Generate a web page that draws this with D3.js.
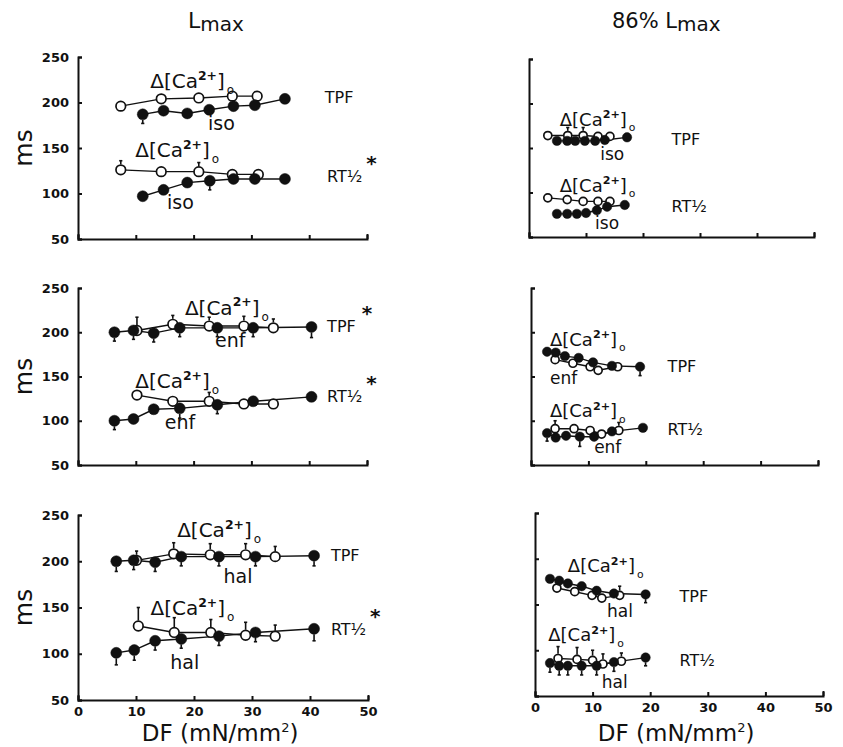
<!DOCTYPE html>
<head>
  <meta charset='utf-8'>
  <title>TPF and RT1/2 vs DF</title>
  <script src="https://cdn.jsdelivr.net/npm/d3@7"></script>
  <style>
    body { margin: 0; background: #fff; }
    svg text { font-family: "DejaVu Sans", sans-serif; fill: #111; }
    .tick text { font-weight: bold; font-size: 13px; }
    .axis path, .axis line { stroke: #111; stroke-width: 2; }
  </style>
</head>
<body>
  <div id="chart"></div>
  <script type="text/javascript">
    var width = 843,
        height = 747;

    var dfTicks = [0, 10, 20, 30, 40, 50];
    var msTicks = [50, 100, 150, 200, 250];

    // values are [DF, ms, sem extent]; open = delta[Ca2+]o, filled = drug
    // Lmax, isoproterenol
    var lmaxIsoTpfCa   = [[7.4,196,0],[14.4,204,0],[20.9,205,0],[26.7,207,0],[31.0,207,0]];
    var lmaxIsoTpfDrug = [[11.2,187,10],[14.8,191,0],[18.9,188,0],[22.7,192,0],[26.9,196,0],[30.6,197,0],[35.8,204,0]];
    var lmaxIsoRtCa    = [[7.4,126,10],[14.4,124,0],[20.9,124,10],[26.7,121,0],[31.2,121,0]];
    var lmaxIsoRtDrug  = [[11.2,97,0],[14.8,104,0],[18.9,112,0],[22.8,114,10],[26.9,116,0],[30.6,116,0],[35.8,116,0]];
    // Lmax, enflurane
    var lmaxEnfTpfCa   = [[10.2,202,15],[16.4,209,10],[22.7,207,10],[28.7,207,11],[33.8,205,10]];
    var lmaxEnfTpfDrug = [[6.3,200,10],[9.6,202,10],[13.1,199,10],[17.6,205,10],[24.1,205,10],[30.3,205,10],[40.4,206,12]];
    var lmaxEnfRtCa    = [[10.2,129,0],[16.4,122,0],[22.7,122,10],[28.7,119,0],[33.8,119,0]];
    var lmaxEnfRtDrug  = [[6.3,100,10],[9.6,102,0],[13.1,113,0],[17.6,114,11],[24.1,118,10],[30.3,122,0],[40.4,127,0]];
    // Lmax, halothane
    var lmaxHalTpfCa   = [[10.1,201,10],[16.5,208,12],[22.8,207,12],[28.9,207,12],[34.0,205,11]];
    var lmaxHalTpfDrug = [[6.6,200,11],[9.6,201,10],[13.3,199,10],[17.8,205,10],[24.3,205,10],[30.6,205,10],[40.7,206,11]];
    var lmaxHalRtCa    = [[10.4,130,20],[16.6,123,16],[22.9,123,14],[28.9,120,14],[34.0,119,12]];
    var lmaxHalRtDrug  = [[6.6,101,13],[9.7,104,11],[13.3,114,10],[17.8,116,10],[24.3,119,10],[30.6,123,10],[40.7,127,13]];
    // 86% Lmax, isoproterenol
    var subIsoTpfCa    = [[3.3,164,0],[6.8,164,9],[9.5,164,9],[12.1,163,0],[14.2,163,0]];
    var subIsoTpfDrug  = [[4.9,158,0],[6.7,158,0],[8.1,158,0],[9.8,158,0],[11.6,158,0],[13.3,159,0],[17.2,162,0]];
    var subIsoRtCa     = [[3.3,94,0],[6.7,92,0],[9.5,90,0],[12.1,90,0],[14.2,90,0]];
    var subIsoRtDrug   = [[4.9,76,0],[6.7,76,0],[8.4,76,0],[10.0,77,0],[11.9,80,0],[13.7,84,0],[16.8,86,0]];
    // 86% Lmax, enflurane
    var subEnfTpfCa    = [[4.2,169,0],[7.3,165,0],[10.3,161,0],[11.7,157,0],[15.1,161,0]];
    var subEnfTpfDrug  = [[2.8,178,0],[4.3,177,9],[5.9,173,0],[8.3,171,0],[10.8,166,0],[14.1,162,0],[19.0,161,10]];
    var subEnfRtCa     = [[4.2,91,9],[7.5,91,0],[10.3,89,0],[12.3,85,0],[15.3,89,9]];
    var subEnfRtDrug   = [[2.8,86,9],[4.3,81,0],[6.1,83,0],[8.5,82,11],[11.0,82,0],[14.1,88,0],[19.5,92,0]];
    // 86% Lmax, halothane
    var subHalTpfCa    = [[3.8,168,0],[6.9,164,0],[9.9,160,0],[11.6,157,0],[14.7,160,10]];
    var subHalTpfDrug  = [[2.6,178,0],[4.2,176,0],[5.7,173,0],[8.1,170,0],[10.7,165,0],[13.7,162,0],[19.2,161,9]];
    var subHalRtCa     = [[4.0,91,13],[7.3,90,13],[10.0,89,11],[11.8,85,11],[15.0,88,9]];
    var subHalRtDrug   = [[2.6,86,10],[4.2,83,10],[5.7,83,10],[8.1,83,10],[10.7,83,10],[13.7,87,10],[19.2,92,9]];

    var panels = [
      {col: 0, row: 0, drug: "iso", box: [78, 367, 57, 239], big: true,
       series: [lmaxIsoTpfCa, lmaxIsoTpfDrug, lmaxIsoRtCa, lmaxIsoRtDrug],
       tpfStar: false, rtStar: true,
       lab: {caT: [12.5, 216], drT: [22.5, 170], tpf: [42.7, 200], caR: [9.9, 140], drR: [15.4, 83], rt: [43.1, 113]}},
      {col: 0, row: 1, drug: "enf", box: [78, 367, 288, 465], big: true,
       series: [lmaxEnfTpfCa, lmaxEnfTpfDrug, lmaxEnfRtCa, lmaxEnfRtDrug],
       tpfStar: true, rtStar: true,
       lab: {caT: [18.5, 220], drT: [23.7, 183], tpf: [43.1, 200], caR: [9.9, 137], drR: [15.0, 91], rt: [43.1, 121]}},
      {col: 0, row: 2, drug: "hal", box: [78, 368, 515, 700], big: true,
       series: [lmaxHalTpfCa, lmaxHalTpfDrug, lmaxHalRtCa, lmaxHalRtDrug],
       tpfStar: false, rtStar: true,
       lab: {caT: [17.1, 226], drT: [25.1, 177], tpf: [43.6, 200], caR: [12.5, 142], drR: [15.9, 84], rt: [43.6, 120]}},
      {col: 1, row: 0, drug: "iso", box: [529, 814, 59, 237], big: false,
       series: [subIsoTpfCa, subIsoTpfDrug, subIsoRtCa, subIsoRtDrug],
       lab: {caT: [5.4, 175], drT: [12.5, 136], tpf: [25, 153], caR: [5.4, 101], drR: [11.6, 59], rt: [25, 78]}},
      {col: 1, row: 1, drug: "enf", box: [531, 818, 288, 465], big: false,
       series: [subEnfTpfCa, subEnfTpfDrug, subEnfRtCa, subEnfRtDrug],
       lab: {caT: [3.3, 185], drT: [3.3, 142], tpf: [23.8, 155], caR: [3.3, 104], drR: [11, 63], rt: [23.8, 84]}},
      {col: 1, row: 2, drug: "hal", box: [535, 823, 513, 696], big: false,
       series: [subHalTpfCa, subHalTpfDrug, subHalRtCa, subHalRtDrug],
       lab: {caT: [5.7, 185], drT: [12.5, 136], tpf: [25.1, 153], caR: [2.3, 110], drR: [11.6, 59], rt: [25.1, 83]}}
    ];

    var svg = d3.select("#chart").append("svg")
        .attr("width", width)
        .attr("height", height);

    function caLabel(g, x, y, size) {
      var t = g.append("text").attr("x", x).attr("y", y).attr("font-size", size);
      t.append("tspan").text("Δ[Ca");
      t.append("tspan").attr("font-size", size * 0.62).attr("font-weight", "bold")
          .attr("dy", -size * 0.42).text("2+");
      t.append("tspan").attr("dy", size * 0.42).text("]");
      t.append("tspan").attr("font-size", size * 0.6).attr("dy", size * 0.3).attr("dx", 2).text("o");
    }

    panels.forEach(function(p) {
      var x = d3.scaleLinear().domain([0, 50]).range([p.box[0], p.box[1]]);
      var y = d3.scaleLinear().domain([50, 250]).range([p.box[3], p.box[2]]);
      var g = svg.append("g");
      var r = p.big ? 5.5 : 4.7;

      var yAxis = d3.axisLeft(y).tickValues(msTicks)
          .tickSizeInner(-4).tickSizeOuter(-4).tickPadding(9);
      if (p.col === 1) yAxis.tickFormat("");
      g.append("g").attr("class", "axis")
          .attr("transform", "translate(" + p.box[0] + ",0)")
          .call(yAxis);

      var xAxis = d3.axisBottom(x).tickValues(dfTicks)
          .tickSizeInner(-4).tickSizeOuter(-5).tickPadding(7);
      if (p.row < 2) xAxis.tickFormat("");
      g.append("g").attr("class", "axis")
          .attr("transform", "translate(0," + p.box[3] + ")")
          .call(xAxis);

      var line = d3.line()
          .x(function(d) { return x(d[0]); })
          .y(function(d) { return y(d[1]); });

      p.series.forEach(function(s, i) {
        var open = i % 2 === 0;
        g.append("path")
            .datum(s)
            .attr("d", line)
            .attr("fill", "none")
            .attr("stroke", "#111")
            .attr("stroke-width", 1.4);

        // sem bars: up for delta[Ca2+]o, down for drug
        var bars = s.filter(function(d) { return d[2] > 0; });
        function tip(d) { return y(open ? d[1] + d[2] : d[1] - d[2]); }
        g.selectAll(null).data(bars).enter().append("line")
            .attr("x1", function(d) { return x(d[0]); })
            .attr("x2", function(d) { return x(d[0]); })
            .attr("y1", function(d) { return y(d[1]) + (open ? -r : r); })
            .attr("y2", tip)
            .attr("stroke", "#111")
            .attr("stroke-width", 1.6);
        g.selectAll(null).data(bars).enter().append("line")
            .attr("x1", function(d) { return x(d[0]) - 1.6; })
            .attr("x2", function(d) { return x(d[0]) + 1.6; })
            .attr("y1", tip)
            .attr("y2", tip)
            .attr("stroke", "#111")
            .attr("stroke-width", 1.6);
      });

      p.series.forEach(function(s, i) {
        var open = i % 2 === 0;
        g.selectAll(null).data(s).enter().append("circle")
            .attr("cx", function(d) { return x(d[0]); })
            .attr("cy", function(d) { return y(d[1]); })
            .attr("r", open ? r - 0.7 : r)
            .attr("fill", open ? "#fff" : "#111")
            .attr("stroke", "#111")
            .attr("stroke-width", open ? 1.7 : 0.5);
      });

      var fs = p.big ? 20 : 18;
      var L = p.lab;
      caLabel(g, x(L.caT[0]), y(L.caT[1]), fs);
      caLabel(g, x(L.caR[0]), y(L.caR[1]), fs);
      g.append("text").attr("x", x(L.drT[0])).attr("y", y(L.drT[1]))
          .attr("font-size", fs - 1).text(p.drug);
      g.append("text").attr("x", x(L.drR[0])).attr("y", y(L.drR[1]))
          .attr("font-size", fs - 1).text(p.drug);

      var tpf = g.append("text").attr("x", x(L.tpf[0])).attr("y", y(L.tpf[1]))
          .attr("font-size", 16).text("TPF");
      if (p.tpfStar) tpf.append("tspan").attr("dx", 6).attr("dy", -12)
          .attr("font-size", 20).attr("font-weight", "bold").text("*");
      var rt = g.append("text").attr("x", x(L.rt[0])).attr("y", y(L.rt[1]))
          .attr("font-size", 16).text("RT½");
      if (p.rtStar) rt.append("tspan").attr("dx", 4).attr("dy", -12)
          .attr("font-size", 20).attr("font-weight", "bold").text("*");

      if (p.col === 0) {
        svg.append("text")
            .attr("transform", "translate(32," + ((p.box[2] + p.box[3]) / 2) + ") rotate(-90)")
            .attr("text-anchor", "middle")
            .attr("font-size", 25)
            .text("ms");
      }
      if (p.row === 2) {
        var xl = svg.append("text")
            .attr("x", x(24.5))
            .attr("y", 741)
            .attr("text-anchor", "middle")
            .attr("font-size", 23)
            .text("DF (mN/mm");
        xl.append("tspan").attr("font-size", 13).attr("dy", -9).text("2");
        xl.append("tspan").attr("dy", 9).text(")");
      }
    });

    // column titles
    var t1 = svg.append("text").attr("x", 188).attr("y", 28).attr("font-size", 22).text("L");
    t1.append("tspan").attr("font-size", 20).attr("dy", 3).text("max");
    var t2 = svg.append("text").attr("x", 612).attr("y", 28).attr("font-size", 21).text("86% L");
    t2.append("tspan").attr("font-size", 20).attr("dy", 3).text("max");
  </script>
</body>
